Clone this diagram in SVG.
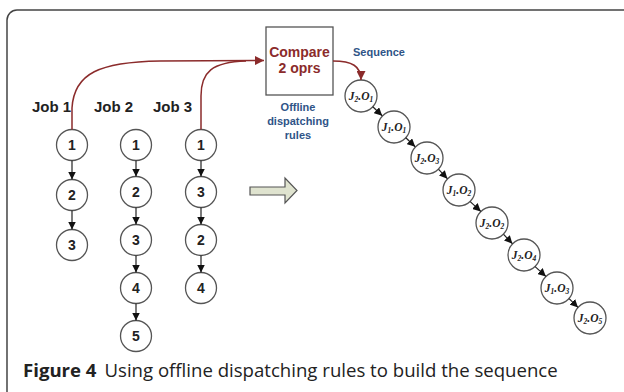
<svg xmlns="http://www.w3.org/2000/svg" width="624" height="392" viewBox="0 0 624 392">
  <defs>
    <style>
      .frame { fill: none; stroke: #444; stroke-width: 1.5; }
      .op { fill: #fff; stroke: #555; stroke-width: 1.3; }
      .num { font-family: "Liberation Sans", Arial, sans-serif; font-weight: bold; font-size: 14px; fill: #222; text-anchor: middle; }
      .job { font-family: "Liberation Sans", Arial, sans-serif; font-weight: bold; font-size: 15px; fill: #222; }
      .cmp { font-family: "Liberation Sans", Arial, sans-serif; font-weight: bold; font-size: 14px; fill: #8b2b2b; text-anchor: middle; }
      .blue { font-family: "Liberation Sans", Arial, sans-serif; font-weight: bold; font-size: 11px; fill: #2f5487; text-anchor: middle; }
      .sq { font-family: "Liberation Serif", "Times New Roman", serif; font-style: italic; font-weight: bold; font-size: 11.5px; fill: #222; text-anchor: middle; }
      .sub { font-size: 7.5px; }
      .link { fill: none; stroke: #222; stroke-width: 1.2; }
      .red { fill: none; stroke: #8b2b2b; stroke-width: 1.5; }
      .cap { font-family: "Open Sans", "Noto Sans", sans-serif; font-size: 18.6px; fill: #222; }
    </style>
    <marker id="ah" viewBox="0 0 8 8" refX="8" refY="4" markerWidth="8" markerHeight="8" markerUnits="userSpaceOnUse" orient="auto">
      <path d="M0,0 L8,4 L0,8 z" fill="#111"/>
    </marker>
    <marker id="ahRed" viewBox="0 0 9 9" refX="9" refY="4.5" markerWidth="9" markerHeight="9" markerUnits="userSpaceOnUse" orient="auto">
      <path d="M0,0 L9,4.5 L0,9 z" fill="#8b2b2b"/>
    </marker>
  </defs>

  <rect width="624" height="392" fill="#fff"/>
  <rect class="frame" x="7" y="10" width="640" height="395" rx="10"/>

  <!-- job labels -->
  <g id="labels">
    <text class="job" x="32" y="112">Job 1</text>
    <text class="job" x="94" y="112">Job 2</text>
    <text class="job" x="153" y="112">Job 3</text>
  </g>

  <!-- Job 1 operations -->
  <g id="job1">
    <circle class="op" cx="72" cy="145" r="15.5"/><text class="num" x="72" y="150">1</text>
    <circle class="op" cx="72" cy="195" r="15.5"/><text class="num" x="72" y="200">2</text>
    <circle class="op" cx="72" cy="245" r="15.5"/><text class="num" x="72" y="250">3</text>
  </g>

  <!-- Job 2 operations -->
  <g id="job2">
    <circle class="op" cx="136" cy="145" r="15.5"/><text class="num" x="136" y="150">1</text>
    <circle class="op" cx="136" cy="192" r="15.5"/><text class="num" x="136" y="197">2</text>
    <circle class="op" cx="136" cy="240" r="15.5"/><text class="num" x="136" y="245">3</text>
    <circle class="op" cx="136" cy="288" r="15.5"/><text class="num" x="136" y="293">4</text>
    <circle class="op" cx="136" cy="336" r="15.5"/><text class="num" x="136" y="341">5</text>
  </g>

  <!-- Job 3 operations -->
  <g id="job3">
    <circle class="op" cx="201" cy="145" r="15.5"/><text class="num" x="201" y="150">1</text>
    <circle class="op" cx="201" cy="192" r="15.5"/><text class="num" x="201" y="197">3</text>
    <circle class="op" cx="201" cy="240" r="15.5"/><text class="num" x="201" y="245">2</text>
    <circle class="op" cx="201" cy="288" r="15.5"/><text class="num" x="201" y="293">4</text>
  </g>

  <!-- comparison box -->
  <g id="compare">
    <rect x="266" y="27" width="67" height="68" fill="#fff" stroke="#555" stroke-width="1.3"/>
    <text class="cmp" x="299.5" y="57">Compare</text>
    <text class="cmp" x="299.5" y="73">2 oprs</text>
  </g>

  <g id="rules">
    <text class="blue" x="298" y="111">Offline</text>
    <text class="blue" x="298" y="125">dispatching</text>
    <text class="blue" x="298" y="139">rules</text>
  </g>

  <g id="seqLabel">
    <text class="blue" x="379" y="56">Sequence</text>
  </g>

  <!-- transformation arrow -->
  <g id="bigArrow">
    <path d="M250,187 L285,187 L285,178 L297,190.5 L285,203 L285,195 L250,195 z" fill="#dfe3cf" stroke="#555" stroke-width="1.2"/>
  </g>

  <!-- sequence of operations -->
  <g id="sequence">
    <g id="s1"><circle class="op" cx="361" cy="96" r="16"/><text class="sq" x="361" y="100">J<tspan class="sub" dy="2">2</tspan><tspan dy="-2">.O</tspan><tspan class="sub" dy="2">1</tspan></text></g>
    <g id="s2"><circle class="op" cx="394" cy="127" r="16"/><text class="sq" x="394" y="131">J<tspan class="sub" dy="2">1</tspan><tspan dy="-2">.O</tspan><tspan class="sub" dy="2">1</tspan></text></g>
    <g id="s3"><circle class="op" cx="427" cy="158" r="16"/><text class="sq" x="427" y="162">J<tspan class="sub" dy="2">2</tspan><tspan dy="-2">.O</tspan><tspan class="sub" dy="2">3</tspan></text></g>
    <g id="s4"><circle class="op" cx="459" cy="190" r="16"/><text class="sq" x="459" y="194">J<tspan class="sub" dy="2">1</tspan><tspan dy="-2">.O</tspan><tspan class="sub" dy="2">2</tspan></text></g>
    <g id="s5"><circle class="op" cx="492" cy="223" r="16"/><text class="sq" x="492" y="227">J<tspan class="sub" dy="2">2</tspan><tspan dy="-2">.O</tspan><tspan class="sub" dy="2">2</tspan></text></g>
    <g id="s6"><circle class="op" cx="524" cy="255" r="16"/><text class="sq" x="524" y="259">J<tspan class="sub" dy="2">2</tspan><tspan dy="-2">.O</tspan><tspan class="sub" dy="2">4</tspan></text></g>
    <g id="s7"><circle class="op" cx="557" cy="288" r="16"/><text class="sq" x="557" y="292">J<tspan class="sub" dy="2">1</tspan><tspan dy="-2">.O</tspan><tspan class="sub" dy="2">3</tspan></text></g>
    <g id="s8"><circle class="op" cx="590" cy="318" r="16"/><text class="sq" x="590" y="322">J<tspan class="sub" dy="2">2</tspan><tspan dy="-2">.O</tspan><tspan class="sub" dy="2">5</tspan></text></g>
  </g>

  <!-- connectors -->
  <g id="connectors">
    <line class="link" x1="72" y1="160.5" x2="72" y2="179.5" marker-end="url(#ah)"/>
    <line class="link" x1="72" y1="210.5" x2="72" y2="229.5" marker-end="url(#ah)"/>

    <line class="link" x1="136" y1="160.5" x2="136" y2="176.5" marker-end="url(#ah)"/>
    <line class="link" x1="136" y1="207.5" x2="136" y2="224.5" marker-end="url(#ah)"/>
    <line class="link" x1="136" y1="255.5" x2="136" y2="272.5" marker-end="url(#ah)"/>
    <line class="link" x1="136" y1="303.5" x2="136" y2="320.5" marker-end="url(#ah)"/>

    <line class="link" x1="201" y1="160.5" x2="201" y2="176.5" marker-end="url(#ah)"/>
    <line class="link" x1="201" y1="207.5" x2="201" y2="224.5" marker-end="url(#ah)"/>
    <line class="link" x1="201" y1="255.5" x2="201" y2="272.5" marker-end="url(#ah)"/>

    <line class="link" x1="372.8" y1="106.8" x2="382.2" y2="115.7" marker-end="url(#ah)"/>
    <line class="link" x1="405.8" y1="137.8" x2="415.2" y2="146.7" marker-end="url(#ah)"/>
    <line class="link" x1="438.6" y1="169.3" x2="447.4" y2="178.7" marker-end="url(#ah)"/>
    <line class="link" x1="470.2" y1="201.6" x2="480.8" y2="211.4" marker-end="url(#ah)"/>
    <line class="link" x1="503.6" y1="234.3" x2="512.4" y2="243.7" marker-end="url(#ah)"/>
    <line class="link" x1="535.1" y1="266.6" x2="545.9" y2="276.4" marker-end="url(#ah)"/>
    <line class="link" x1="569.1" y1="298.6" x2="578.0" y2="307.4" marker-end="url(#ah)"/>

    <path class="red" d="M72,129.5 L72,108 C74,73 100,62 160,61 L264,60.5" marker-end="url(#ahRed)"/>
    <path class="red" d="M201,129.5 L201,96 C201,72 212,62 246,61"/>
    <path class="red" d="M333,61 C352,61 361,66 361,80" marker-end="url(#ahRed)"/>
  </g>

  <!-- caption -->
  <text class="cap" x="23" y="377"><tspan font-weight="bold">Figure 4</tspan><tspan dx="8">Using offline dispatching rules to build the sequence</tspan></text>
</svg>
